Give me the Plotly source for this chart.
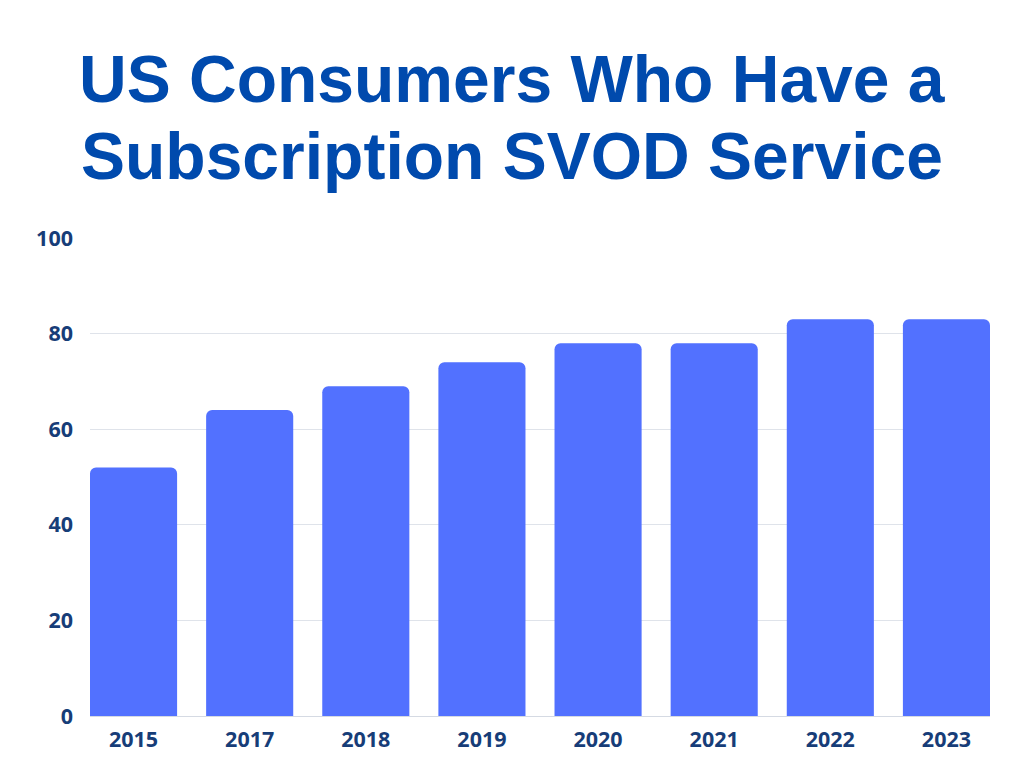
import plotly.graph_objects as go

years = ["2015", "2017", "2018", "2019", "2020", "2021", "2022", "2023"]
values = [52, 64, 69, 74, 78, 78, 83, 83]
y_ticks = [0, 20, 40, 60, 80, 100]
title_lines = ["US Consumers Who Have a", "Subscription SVOD Service"]

TITLE_COLOR = "#004aad"
TICK_COLOR = "#173d78"
BAR_COLOR = "#5271ff"

# figure margins (page is drawn with an 8px body offset)
L, R, T, B = 82, 42, 230, 60
PLOT_H = 768 - T - B

fig = go.Figure(
    go.Bar(
        x=years,
        y=values,
        marker=dict(color=BAR_COLOR, cornerradius=6, line=dict(width=0)),
        width=0.75,
        hoverinfo="x+y",
    )
)

fig.update_layout(
    width=1024,
    height=768,
    paper_bgcolor="white",
    plot_bgcolor="white",
    margin=dict(l=L, r=R, t=T, b=B),
    showlegend=False,
    font=dict(family="Open Sans", color=TICK_COLOR),
)

fig.update_xaxes(
    type="category",
    range=[-0.375, 7.375],
    showgrid=False,
    showline=False,
    ticks="",
    tickfont=dict(family="Open Sans", size=21.5, color=TICK_COLOR, weight="bold"),
    ticklabelstandoff=8,
)
fig.update_yaxes(
    range=[0, 100],
    tickvals=y_ticks,
    ticktext=[str(v) for v in y_ticks],
    showgrid=True,
    gridcolor="#dfe3ea",
    gridwidth=1,
    zeroline=True,
    zerolinecolor="#d5dae3",
    zerolinewidth=1,
    showline=False,
    ticks="",
    tickfont=dict(family="Open Sans", size=21.5, color=TICK_COLOR, weight="bold"),
    ticklabelstandoff=16,
)

# title lines, centred at window pixel rows (minus the 8px offset)
title_centers = [70.5, 147.5]
for line, yc in zip(title_lines, title_centers):
    fig.add_annotation(
        text=line,
        xref="paper",
        yref="paper",
        x=(504 - L) / (1024 - L - R),
        y=1 + (T - yc) / PLOT_H,
        xanchor="center",
        yanchor="middle",
        showarrow=False,
        font=dict(family="Liberation Sans", size=66, color=TITLE_COLOR, weight="bold"),
    )

fig.write_html("out.html")
